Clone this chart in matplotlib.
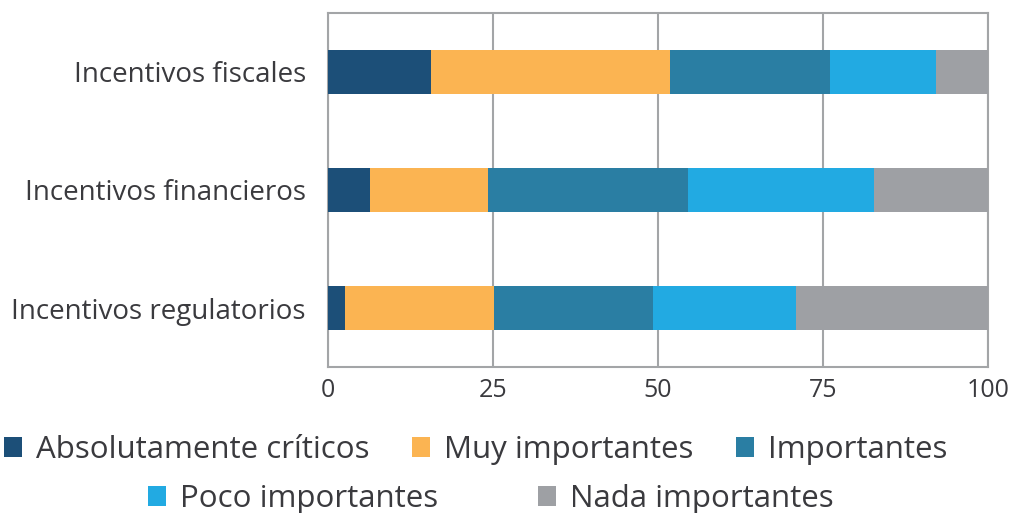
import matplotlib.pyplot as plt
import numpy as np

categorias = ["Incentivos fiscales", "Incentivos financieros", "Incentivos regulatorios"]
series = ["Absolutamente críticos", "Muy importantes", "Importantes",
          "Poco importantes", "Nada importantes"]
criticos = [15.6, 6.3, 2.5]
muy_imp = [36.2, 17.9, 22.6]
importantes = [24.2, 30.4, 24.1]
poco_imp = [16.1, 28.1, 21.7]
nada_imp = [7.9, 17.3, 29.1]
ticks = [0, 25, 50, 75, 100]

colores = ["#1c4f78", "#fbb452", "#2a7ea3", "#22aae2", "#9ea0a4"]
gris = "#a3a5a7"
texto = "#3a3a3e"

plt.rcParams['font.family'] = ['Open Sans', 'DejaVu Sans']

fig = plt.figure(figsize=(10.12, 5.13), dpi=100)
ax = fig.add_axes([328 / 1012, 1 - 367 / 513, 660 / 1012, 354 / 513])

y = np.arange(len(categorias))
izq = np.zeros(len(categorias))
for nombre, vals, c in zip(series, [criticos, muy_imp, importantes, poco_imp, nada_imp], colores):
    ax.barh(y, vals, left=izq, height=0.38, color=c, label=nombre, zorder=3)
    izq += np.array(vals)

ax.set_xlim(0, 100)
ax.set_ylim(len(categorias) - 0.5, -0.5)
ax.set_yticks(y)
ax.set_yticklabels(categorias, fontsize=20, color=texto)
ax.set_xticks(ticks)
ax.set_xticklabels([str(t) for t in ticks], fontsize=18, color=texto)
ax.tick_params(length=0, pad=8)
ax.tick_params(axis='y', pad=16)
ax.grid(axis='x', color=gris, linewidth=1.5, zorder=0)
for s in ax.spines.values():
    s.set_color(gris)
    s.set_linewidth(1.5)

# leyenda en dos filas centradas
handles, labels = ax.get_legend_handles_labels()
fig.legend(handles[:3], labels[:3], loc='center', bbox_to_anchor=(0.47, 1 - 450 / 513),
           ncol=3, frameon=False, fontsize=22.5, handlelength=0.58, handleheight=0.58,
           handletextpad=0.46, columnspacing=1.34, labelcolor=texto)
fig.legend(handles[3:], labels[3:], loc='center', bbox_to_anchor=(0.485, 1 - 499 / 513),
           ncol=2, frameon=False, fontsize=22.5, handlelength=0.58, handleheight=0.58,
           handletextpad=0.46, columnspacing=3.17, labelcolor=texto)

fig.savefig("out.png", dpi=100)
